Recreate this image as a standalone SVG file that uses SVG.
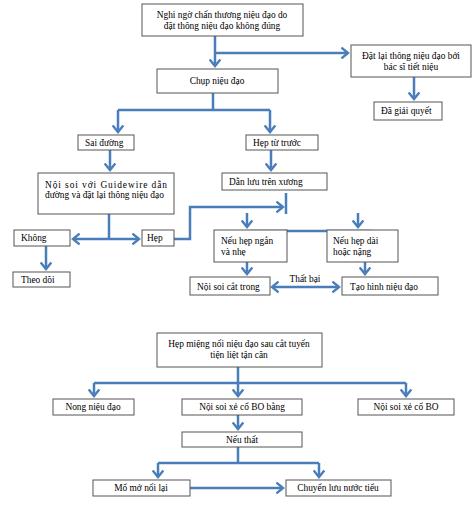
<svg xmlns="http://www.w3.org/2000/svg" width="474" height="508" viewBox="0 0 474 508">
<defs>
<marker id="ah" markerUnits="userSpaceOnUse" markerWidth="12" markerHeight="12" refX="6" refY="5" orient="auto-start-reverse" viewBox="0 0 10 10">
<path d="M0.5,0.5 L6,5 L0.5,9.5" fill="none" stroke="#4a7ebb" stroke-width="2"/>
</marker>
<style>
rect{fill:#fff;stroke:#555;stroke-width:1}
text{font-family:"Liberation Serif","Times New Roman",serif;font-size:9.4px;fill:#000}
.c{text-anchor:middle}
.ln{fill:none;stroke:#4a7ebb;stroke-width:2.5}
.ar{marker-end:url(#ah)}
</style>
</defs>
<rect x="0" y="0" width="474" height="508" style="fill:#fff;stroke:none"/>
<g id="connectors">
<path class="ln ar" d="M215,36 V66"/>
<path class="ln ar" d="M215,53 H348"/>
<path class="ln ar" d="M414,77 V99"/>
<path class="ln" d="M213,93 V110 M118,110 H270"/>
<path class="ln ar" d="M118,110 V132"/>
<path class="ln ar" d="M270,110 V132"/>
<path class="ln ar" d="M110,150 V170"/>
<path class="ln ar" d="M271,150 V170"/>
<path class="ln" d="M109,214 V239"/>
<path class="ln ar" d="M109,239 H73"/>
<path class="ln ar" d="M109,239 H139"/>
<path class="ln ar" d="M46,246 V269"/>
<path class="ln ar" d="M174,239 H190 V207 H283"/>
<path class="ln" d="M286,193 V214"/>
<path class="ln ar" d="M247,213 V227"/>
<path class="ln ar" d="M358,213 V227"/>
<path class="ln" d="M250,231 H372"/>
<path class="ln ar" d="M247,262 V274"/>
<path class="ln ar" d="M365,262 V274"/>
<path class="ln ar" d="M272,287 H339" marker-start="url(#ah)"/>
<path class="ln" d="M238,367 V383 M94,383 H406"/>
<path class="ln ar" d="M94,383 V396"/>
<path class="ln ar" d="M238,383 V396"/>
<path class="ln ar" d="M406,383 V396"/>
<path class="ln ar" d="M238,415 V429"/>
<path class="ln" d="M238,447 V463 M158,463 H319"/>
<path class="ln ar" d="M158,463 V477"/>
<path class="ln ar" d="M319,463 V477"/>
<path class="ln ar" d="M190,488 H283"/>
</g>
<g id="n1"><rect x="142" y="4" width="161" height="32"/><text class="c" x="222" y="18">Nghi ngờ chấn thương niệu đạo do</text><text class="c" x="222" y="29">đặt thông niệu đạo không đúng</text></g>
<g id="n2"><rect x="351" y="45" width="120" height="32"/><text class="c" x="411" y="59">Đặt lại thông niệu đạo bởi</text><text class="c" x="411" y="70">bác sĩ tiết niệu</text></g>
<g id="n3"><rect x="374" y="102" width="68" height="18"/><text x="381" y="114">Đã giải quyết</text></g>
<g id="n4"><rect x="157" y="69" width="121" height="24"/><text class="c" x="217" y="84">Chụp niệu đạo</text></g>
<g id="n5"><rect x="78" y="135" width="56" height="15"/><text x="85" y="146">Sai đường</text></g>
<g id="n6"><rect x="246" y="135" width="72" height="15"/><text x="253" y="146">Hẹp từ trước</text></g>
<g id="n7"><rect x="38" y="173" width="136" height="41"/><text x="45" y="188" textLength="122" lengthAdjust="spacing">Nội soi với Guidewire dẫn</text><text x="45" y="198">đường và đặt lại thông niệu đạo</text></g>
<g id="n8"><rect x="222" y="173" width="105" height="17"/><text x="229" y="185">Dẫn lưu trên xương</text></g>
<g id="n9"><rect x="14" y="230" width="56" height="16"/><text x="21" y="241">Không</text></g>
<g id="n10"><rect x="142" y="230" width="32" height="16"/><text x="147" y="241">Hẹp</text></g>
<g id="n11"><rect x="13" y="272" width="57" height="15"/><text x="21" y="283">Theo dõi</text></g>
<g id="n12"><rect x="214" y="230" width="73" height="32"/><text x="221" y="244">Nếu hẹp ngắn</text><text x="221" y="255">và nhẹ</text></g>
<g id="n13"><rect x="327" y="230" width="71" height="32"/><text x="333" y="244">Nếu hẹp dài</text><text x="333" y="255">hoặc nặng</text></g>
<g id="n14"><rect x="190" y="277" width="80" height="18"/><text x="197" y="290">Nội soi cắt trong</text></g>
<g id="n15"><rect x="342" y="277" width="96" height="18"/><text x="350" y="290">Tạo hình niệu đạo</text></g>
<text class="c" x="305" y="282">Thất bại</text>
<g id="n16"><rect x="157" y="333" width="165" height="34"/><text class="c" x="239" y="347">Hẹp miệng nối niệu đạo sau cắt tuyến</text><text class="c" x="239" y="358">tiện liệt tận căn</text></g>
<g id="n17"><rect x="53" y="399" width="81" height="16"/><text class="c" x="93" y="410">Nong niệu đạo</text></g>
<g id="n18"><rect x="182" y="399" width="120" height="16"/><text class="c" x="242" y="410">Nội soi xẻ cổ BO bằng</text></g>
<g id="n19"><rect x="358" y="399" width="96" height="16"/><text class="c" x="406" y="410">Nội soi xẻ cổ BO</text></g>
<g id="n20"><rect x="182" y="432" width="120" height="15"/><text class="c" x="242" y="443">Nếu thất</text></g>
<g id="n21"><rect x="93" y="480" width="97" height="16"/><text class="c" x="141" y="491">Mổ mở nối lại</text></g>
<g id="n22"><rect x="286" y="480" width="105" height="16"/><text class="c" x="338" y="491">Chuyển lưu nước tiểu</text></g>
</svg>
